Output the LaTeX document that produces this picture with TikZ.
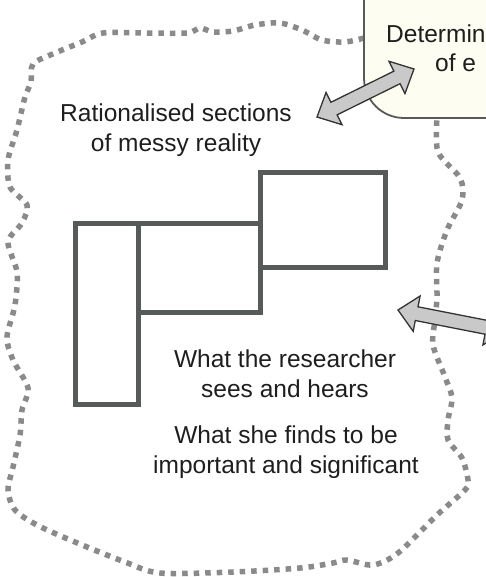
\documentclass[tikz,border=0pt]{standalone}
\usepackage{fontspec}
\setmainfont{Liberation Sans}
\usetikzlibrary{calc}

\definecolor{framegray}{HTML}{565B59}
\definecolor{dotgray}{HTML}{8A8A8A}
\definecolor{arrowgray}{HTML}{C9C9C9}
\definecolor{boxcream}{HTML}{FDFDF2}
\definecolor{textblack}{HTML}{1E1E1E}

\tikzset{
  frame/.style={draw=framegray, line width=5pt},
  blob/.style={draw=dotgray, line width=5.5pt, dash pattern=on 5.5pt off 6pt},
  fatarrow/.style={draw=black!80, fill=arrowgray, line width=1.3pt, line join=miter},
  focusbox/.style={draw=black!65, fill=boxcream, line width=1.8pt, rounded corners=40pt,
    outer sep=0pt, inner sep=0pt},
  label/.style={align=center, text=textblack, font=\fontsize{24.5}{30}\selectfont, inner sep=0pt}
}

% double block arrow between two named points
\newcommand{\dblarrow}[2]{%
  \draw[fatarrow] (#1)
    -- ($(#1)!19pt!(#2)!18pt!90:(#2)$) -- ($(#1)!19pt!(#2)!7pt!90:(#2)$)
    -- ($(#2)!19pt!(#1)!7pt!-90:(#1)$) -- ($(#2)!19pt!(#1)!18pt!-90:(#1)$)
    -- (#2)
    -- ($(#2)!19pt!(#1)!18pt!90:(#1)$) -- ($(#2)!19pt!(#1)!7pt!90:(#1)$)
    -- ($(#1)!19pt!(#2)!7pt!-90:(#2)$) -- ($(#1)!19pt!(#2)!18pt!-90:(#2)$)
    -- cycle;}

\begin{document}
\begin{tikzpicture}[x=1pt, y=-1pt]
\useasboundingbox (0,0) rectangle (486,577);
\clip (0,0) rectangle (486,577);

% messy reality
\draw[blob] plot[smooth] coordinates {
  (364,38) (345,42) (322,40) (302,30) (280,23) (255,25) (233,31) (213,32) (200,28)
  (187,33) (145,33) (103,33) (82,42) (55,53) (33,64) (31,82) (25,97) (17,130) (8,160)
  (10,187) (27,205) (22,223) (8,242) (17,272) (15,305) (7,337) (13,360) (28,388)
  (22,410) (20,435) (13,467) (8,490) (15,510) (37,525) (75,542) (125,562) (160,573)
  (233,572) (300,568) (333,563) (347,560) (373,565) (398,553) (437,515) (465,490)
  (468,480) (462,458) (448,440) (448,420) (452,398) (445,377) (433,345) (435,320)
  (437,297) (437,263) (447,230) (462,200) (460,178) (438,152) (437,118)};

% box at top right
\node (focus) [focusbox, minimum width=260pt, minimum height=200pt, anchor=south west] at (364,118) {};
\node (focustop) [label, anchor=base west] at (386,43) {Determin};
\node (focusbot) [label, anchor=base west] at (435,72) {of e};

% sections
\draw[frame] (75.5,223.5) rectangle (138.5,404.5);
\draw[frame] (138.5,223.5) rectangle (260,312.5);
\draw[frame] (260,172.5) rectangle (385.5,267.5);

% texts
\node (sections) [label] at (176,130.6) {Rationalised sections\\of messy reality};
\node (sees) [label] at (285,374) {What the researcher\\sees and hears};
\node (finds) [label] at (286,451.7) {What she finds to be\\important and significant};

% arrows
\coordinate (upA) at (317,117);
\coordinate (upB) at (414,69);
\coordinate (rightA) at (398,310);
\coordinate (rightB) at (505,331);
\dblarrow{upA}{upB}
\dblarrow{rightA}{rightB}
\end{tikzpicture}
\end{document}
